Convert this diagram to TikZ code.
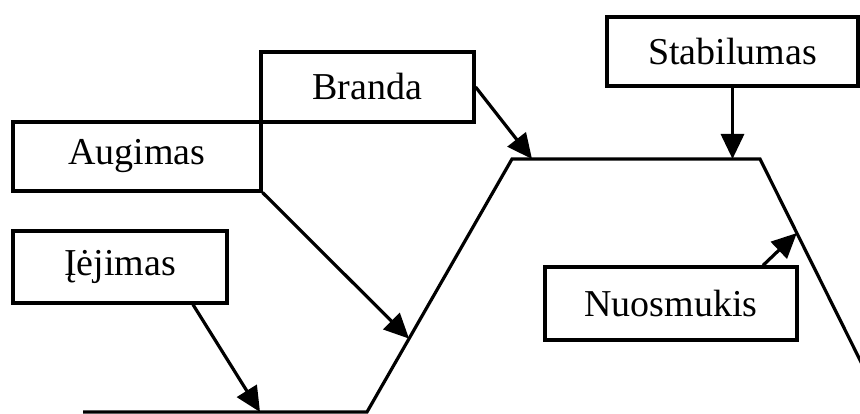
\documentclass[tikz,border=0pt]{standalone}
\usepackage{fontspec}
\setmainfont{Liberation Serif}
\usetikzlibrary{arrows.meta,calc}
\begin{document}
\begin{tikzpicture}[x=1pt,y=-1pt,
  stagebox/.style={draw,line width=3.2pt,rectangle,inner sep=0pt,
    font=\fontsize{38}{40}\selectfont},
  lifeline/.style={line width=3.2pt,line join=miter},
  arr/.style={line width=3.2pt,-{Triangle[length=25pt,width=23pt]}}]
\useasboundingbox (0,0) rectangle (860,414);
\fill[white] (0,0) rectangle (860,414);
% stage boxes
\node[stagebox,minimum width=213pt,minimum height=70pt] (bran) at (367.5,87) {Branda};
\node[stagebox,minimum width=248pt,minimum height=69pt] (aug) at (137,156.5) {Augimas};
\node[stagebox,minimum width=214pt,minimum height=72pt] (ieji) at (120,267) {Įėjimas};
\node[stagebox,minimum width=251pt,minimum height=69pt] (stab) at (732.5,51.5) {Stabilumas};
\node[stagebox,minimum width=252pt,minimum height=73pt] (nuo) at (671,303.5) {Nuosmukis};
% life-cycle curve
\coordinate (p1) at (83,412);
\coordinate (p2) at (367,412);
\coordinate (p3) at (512,159);
\coordinate (p4) at (760,159);
\coordinate (p5) at (880,400.2);
\begin{scope}
\clip (0,0) rectangle (860,414);
\draw[lifeline] (p1) -- (p2) -- (p3) -- (p4) -- (p5);
\end{scope}
% targets on the curve
\coordinate (tI) at (260,412);
\coordinate (tA) at ($(p2)!0.29!(p3)$);
\coordinate (tB) at (532,159);
\coordinate (tN) at ($(p4)!0.307!(p5)$);
% arrows
\draw[arr] ([xshift=73pt]ieji.south) -- (tI);
\draw[arr] (aug.south east) -- (tA);
\draw[arr] (bran.east) -- (tB);
\draw[arr] (stab.south) -- (stab.south |- p4);
\draw[arr] ([xshift=92pt]nuo.north) -- (tN);
\end{tikzpicture}
\end{document}
